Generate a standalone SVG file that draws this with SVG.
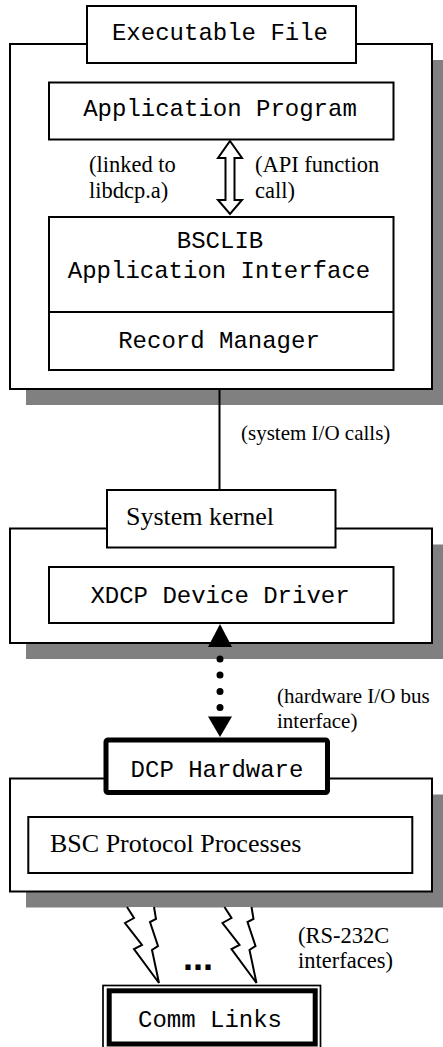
<svg xmlns="http://www.w3.org/2000/svg" width="443" height="1047" viewBox="0 0 443 1047">
<style>
.box{fill:#fff;stroke:#000;stroke-width:2}
.shadow{fill:#808080;stroke:none}
.mono{font-family:"Liberation Mono","Courier New",monospace;font-size:24px;fill:#000;text-anchor:middle}
.big{font-family:"Liberation Serif","Times New Roman",serif;font-size:26px;fill:#000}
.lbl{font-family:"Liberation Serif","Times New Roman",serif;font-size:22.5px;fill:#000}
.lbs{font-family:"Liberation Serif","Times New Roman",serif;font-size:21px;fill:#000}
.line{stroke:#000;stroke-width:2;fill:none}
</style>
<defs>
<path id="bolt" d="M127,907 L134,918 L125,923 L142,945 L134,949 L159,983 L152,950 L158,946 L150,922 L156,919 L154,907" fill="#fff" stroke="#000" stroke-width="2" stroke-linejoin="miter"/>
</defs>

<g id="executable-file">
<rect class="shadow" x="26" y="60" width="422" height="345"/>
<rect class="box" x="10" y="44" width="422" height="345"/>
<rect class="box" x="87" y="6" width="269" height="57"/>
<text class="mono" x="220" y="40">Executable File</text>
</g>

<g id="application-program">
<rect class="box" x="49" y="82.5" width="344.5" height="57"/>
<text class="mono" x="220" y="116">Application Program</text>
</g>

<g id="bsclib">
<rect class="box" x="49" y="217" width="344.5" height="153"/>
<line class="line" x1="49" y1="312" x2="393.5" y2="312"/>
<text class="mono" x="220" y="248">BSCLIB</text>
<text class="mono" x="219" y="278">Application Interface</text>
</g>

<g id="record-manager">
<text class="mono" x="219" y="348">Record Manager</text>
</g>

<g id="system-kernel">
<rect class="shadow" x="26" y="544.5" width="422" height="114.5"/>
<rect class="box" x="10" y="528.5" width="422" height="114.5"/>
<rect class="box" x="107" y="490" width="228.5" height="57.5"/>
<text class="big" x="126" y="525">System kernel</text>
</g>

<g id="xdcp-device-driver">
<rect class="box" x="49" y="567" width="344.5" height="56"/>
<text class="mono" x="220" y="603">XDCP Device Driver</text>
</g>

<g id="dcp-hardware">
<rect class="shadow" x="26" y="794.5" width="422" height="113"/>
<rect class="box" x="10" y="778.5" width="422" height="113"/>
<rect x="106" y="740" width="221.5" height="52.5" rx="2" fill="#fff" stroke="#000" stroke-width="5"/>
<text class="mono" x="217" y="777">DCP Hardware</text>
</g>

<g id="bsc-protocol-processes">
<rect class="box" x="28.3" y="817" width="384" height="56"/>
<text class="big" x="50" y="852">BSC Protocol Processes</text>
</g>

<g id="comm-links">
<rect x="103" y="985.5" width="217.5" height="64" fill="#fff" stroke="#000" stroke-width="1.7"/>
<rect x="109.2" y="990.8" width="206" height="53.2" fill="#fff" stroke="#000" stroke-width="5"/>
<text class="mono" x="210" y="1027">Comm Links</text>
</g>

<g id="connectors">
<polygon points="230,141 242,158 234.5,158 234.5,200 242,200 230,214 218,200 225.5,200 225.5,158 218,158" fill="#fff" stroke="#000" stroke-width="2"/>
<line class="line" x1="219.5" y1="389" x2="219.5" y2="489"/>
<polygon points="220,624 208,647 232,647" fill="#000"/>
<circle cx="220" cy="659" r="3.5" fill="#000"/>
<circle cx="220" cy="675" r="3.5" fill="#000"/>
<circle cx="220" cy="691.5" r="3.5" fill="#000"/>
<circle cx="220" cy="707.5" r="3.5" fill="#000"/>
<polygon points="208,716.5 232,716.5 220,737" fill="#000"/>
<use href="#bolt"/>
<use href="#bolt" transform="translate(97.5,0)"/>
</g>

<g id="labels">
<text class="lbl" x="89" y="172">(linked to</text>
<text class="lbl" x="89" y="198">libdcp.a)</text>
<text class="lbl" x="255" y="172">(API function</text>
<text class="lbl" x="255" y="198">call)</text>
<text class="lbs" x="241" y="440">(system I/O calls)</text>
<text class="lbs" x="277" y="703">(hardware I/O bus</text>
<text class="lbs" x="277" y="728">interface)</text>
<text class="lbl" x="298" y="943">(RS-232C</text>
<text class="lbl" x="298" y="968">interfaces)</text>
<text x="198" y="970" style="font-family:'Liberation Sans',Arial,sans-serif;font-size:36px;font-weight:bold;text-anchor:middle">...</text>
</g>
</svg>
